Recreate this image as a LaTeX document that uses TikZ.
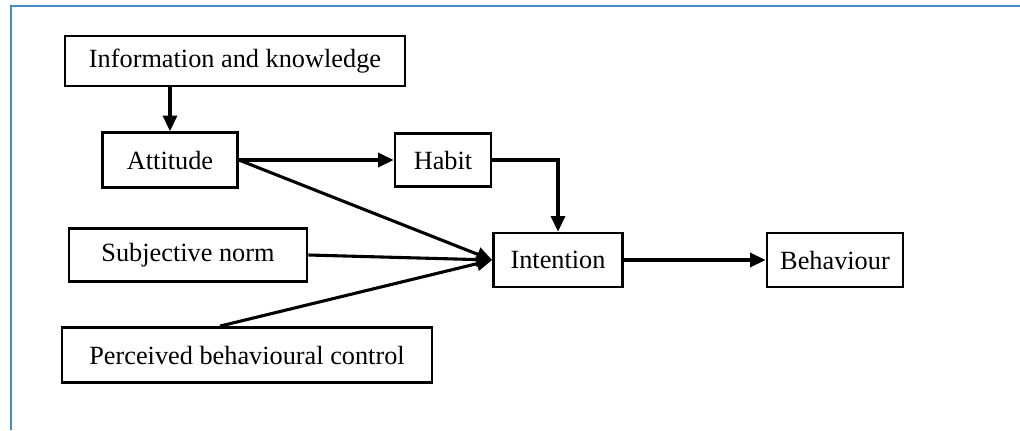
\documentclass[tikz,border=0pt]{standalone}
\usepackage{fontspec}
\setmainfont{Liberation Serif}
\usetikzlibrary{arrows.meta,calc}
\definecolor{frameblue}{RGB}{70,140,200}
\tikzset{
    box/.style  = {rectangle, draw=black, line width=2pt, fill=white, inner sep=0pt,
                   font=\fontsize{18.7}{22}\selectfont},
    link/.style = {-{Triangle[length=11pt,width=10pt]}, line width=2.2pt, draw=black}
}
\begin{document}
\begin{tikzpicture}[x=0.025cm, y=-0.025cm]

    % --- Frame ---
    \useasboundingbox (0,0) rectangle (1020,430);
    \draw[frameblue, line width=1.8pt] (11,430) -- (11,6) -- (1020,6);

    % --- Nodes ---
    \node[box, minimum width=340*0.025cm, minimum height=50*0.025cm] (info) at (235,61) {Information and knowledge};
    \node[box, minimum width=135*0.025cm, minimum height=55*0.025cm] (att) at (170,160) {Attitude};
    \node[box, minimum width=96*0.025cm, minimum height=53*0.025cm] (habit) at (443,160) {Habit};
    \node[box, minimum width=238*0.025cm, minimum height=53*0.025cm] (subj) at (188,255) {Subjective norm};
    \node[box, minimum width=370*0.025cm, minimum height=55*0.025cm] (pbc) at (247,355) {Perceived behavioural control};
    \node[box, minimum width=129*0.025cm, minimum height=54*0.025cm] (inten) at (558,260) {Intention};
    \node[box, minimum width=136*0.025cm, minimum height=54*0.025cm] (behav) at (835,260) {Behaviour};

    % --- Connections ---
    \draw[link] (att.north |- info.south) -- (att.north);
    \draw[link] (att.east) -- (habit.west);
    \draw[link] (habit.east) -| (inten.north);
    \draw[link] (att.east) -- (inten.west);
    \draw[link] (subj.east) -- (inten.west);
    \draw[link] ([xshift=-27*0.025cm]pbc.north) -- (inten.west);
    \draw[link] (inten.east) -- (behav.west);

\end{tikzpicture}
\end{document}
